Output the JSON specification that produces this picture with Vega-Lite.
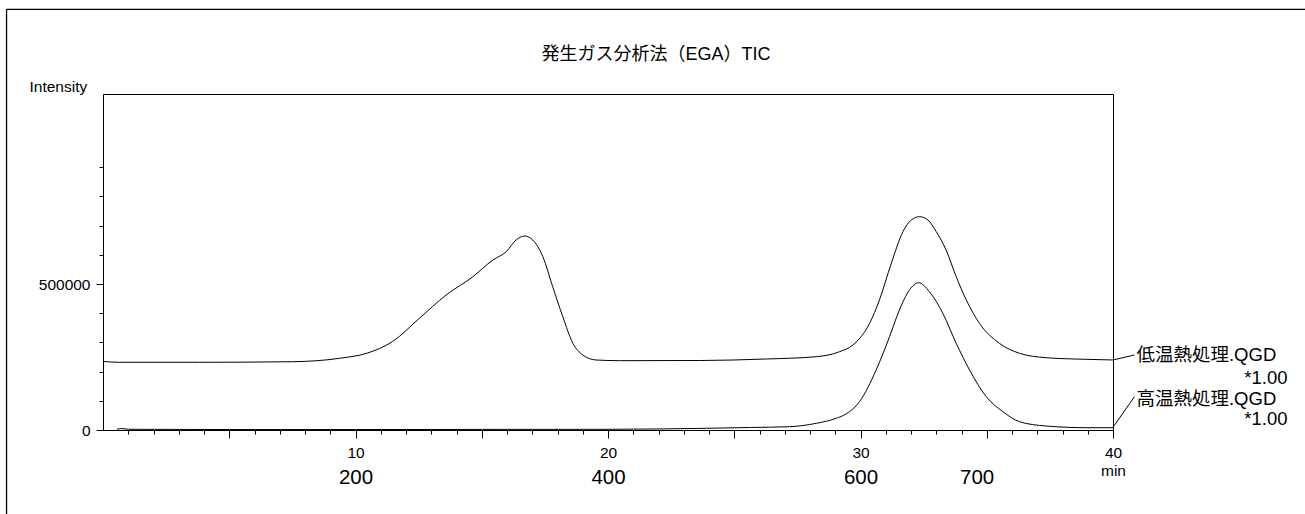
{
  "$schema": "https://vega.github.io/schema/vega-lite/v6.json",
  "width": 1010,
  "height": 336,
  "autosize": {"type": "none"},
  "padding": {"left": 103, "top": 94, "right": 192, "bottom": 84},
  "background": "white",
  "title": {
    "text": "発生ガス分析法（EGA）TIC",
    "font": "Liberation Sans, Noto Sans CJK JP",
    "fontSize": 18,
    "fontWeight": "normal",
    "color": "black",
    "anchor": "middle",
    "frame": "group",
    "dx": 48,
    "offset": -55
  },
  "config": {
    "view": {"stroke": "black", "strokeWidth": 1},
    "axis": {
      "labelColor": "black",
      "tickColor": "black",
      "domainColor": "black",
      "titleColor": "black",
      "labelFont": "Liberation Sans",
      "titleFont": "Liberation Sans",
      "titleFontWeight": "normal",
      "grid": false
    },
    "text": {"font": "Liberation Sans, Noto Sans CJK JP", "color": "black"}
  },
  "datasets": {
    "curves": [
      {"series": "低温熱処理", "t": 0.02, "v": 234600},
      {"series": "低温熱処理", "t": 0.65, "v": 231900},
      {"series": "低温熱処理", "t": 3.82, "v": 231900},
      {"series": "低温熱処理", "t": 7.5, "v": 233900},
      {"series": "低温熱処理", "t": 9.37, "v": 245600},
      {"series": "低温熱処理", "t": 10.44, "v": 262700},
      {"series": "低温熱処理", "t": 11.47, "v": 303100},
      {"series": "低温熱処理", "t": 12.53, "v": 382600},
      {"series": "低温熱処理", "t": 13.59, "v": 462400},
      {"series": "低温熱処理", "t": 14.65, "v": 525100},
      {"series": "低温熱処理", "t": 15.44, "v": 582300},
      {"series": "低温熱処理", "t": 15.97, "v": 610700},
      {"series": "低温熱処理", "t": 16.36, "v": 650800},
      {"series": "低温熱処理", "t": 16.69, "v": 664500},
      {"series": "低温熱処理", "t": 17.02, "v": 650800},
      {"series": "低温熱処理", "t": 17.42, "v": 593600},
      {"series": "低温熱処理", "t": 17.81, "v": 490800},
      {"series": "低温熱処理", "t": 18.21, "v": 388100},
      {"series": "低温熱処理", "t": 18.61, "v": 297000},
      {"series": "低温熱処理", "t": 19.0, "v": 256900},
      {"series": "低温熱処理", "t": 19.53, "v": 239800},
      {"series": "低温熱処理", "t": 20.46, "v": 237400},
      {"series": "低温熱処理", "t": 23.62, "v": 238000},
      {"series": "低温熱処理", "t": 26.27, "v": 243200},
      {"series": "低温熱処理", "t": 28.25, "v": 251100},
      {"series": "低温熱処理", "t": 29.17, "v": 268200},
      {"series": "低温熱処理", "t": 29.7, "v": 291100},
      {"series": "低温熱処理", "t": 30.36, "v": 365400},
      {"series": "低温熱処理", "t": 30.75, "v": 445300},
      {"series": "低温熱処理", "t": 31.22, "v": 570900},
      {"series": "低温熱処理", "t": 31.68, "v": 679200},
      {"series": "低温熱処理", "t": 32.01, "v": 719300},
      {"series": "低温熱処理", "t": 32.34, "v": 730600},
      {"series": "低温熱処理", "t": 32.67, "v": 719300},
      {"series": "低温熱処理", "t": 33.0, "v": 679200},
      {"series": "低温熱処理", "t": 33.39, "v": 616500},
      {"series": "低温熱処理", "t": 33.79, "v": 525100},
      {"series": "低温熱処理", "t": 34.19, "v": 445300},
      {"series": "低温熱処理", "t": 34.71, "v": 365400},
      {"series": "低温熱処理", "t": 35.5, "v": 297000},
      {"series": "低温熱処理", "t": 36.3, "v": 262700},
      {"series": "低温熱処理", "t": 37.35, "v": 247600},
      {"series": "低温熱処理", "t": 38.94, "v": 242100},
      {"series": "低温熱処理", "t": 40.0, "v": 239800},
      {"series": "高温熱処理", "t": 0.55, "v": 2500},
      {"series": "高温熱処理", "t": 0.75, "v": 5000},
      {"series": "高温熱処理", "t": 1.0, "v": 2500},
      {"series": "高温熱処理", "t": 5.0, "v": 1500},
      {"series": "高温熱処理", "t": 10.0, "v": 1500},
      {"series": "高温熱処理", "t": 15.0, "v": 2000},
      {"series": "高温熱処理", "t": 20.0, "v": 2400},
      {"series": "高温熱処理", "t": 23.89, "v": 5800},
      {"series": "高温熱処理", "t": 25.6, "v": 8600},
      {"series": "高温熱処理", "t": 27.19, "v": 11300},
      {"series": "高温熱処理", "t": 28.25, "v": 22900},
      {"series": "高温熱処理", "t": 29.04, "v": 40100},
      {"series": "高温熱処理", "t": 29.43, "v": 55000},
      {"series": "高温熱処理", "t": 29.96, "v": 96900},
      {"series": "高温熱処理", "t": 30.62, "v": 205500},
      {"series": "高温熱処理", "t": 31.15, "v": 319600},
      {"series": "高温熱処理", "t": 31.54, "v": 411000},
      {"series": "高温熱処理", "t": 31.94, "v": 479500},
      {"series": "高温熱処理", "t": 32.3, "v": 504500},
      {"series": "高温熱処理", "t": 32.73, "v": 473700},
      {"series": "高温熱処理", "t": 33.26, "v": 399700},
      {"series": "高温熱処理", "t": 33.79, "v": 297000},
      {"series": "高温熱処理", "t": 34.32, "v": 205500},
      {"series": "高温熱処理", "t": 34.98, "v": 114100},
      {"series": "高温熱処理", "t": 35.64, "v": 62700},
      {"series": "高温熱処理", "t": 36.3, "v": 28400},
      {"series": "高温熱処理", "t": 37.35, "v": 13700},
      {"series": "高温熱処理", "t": 38.94, "v": 7900},
      {"series": "高温熱処理", "t": 40.0, "v": 7900}
    ],
    "frame": [
      {"x": -3.82, "y": 1440900, "x2": 50, "y2": 1440900},
      {"x": -3.82, "y": 1440900, "x2": -3.82, "y2": -500000}
    ],
    "connectors": [
      {"x": 40, "y": 239800, "x2": 40.85, "y2": 256900},
      {"x": 40, "y": 9200, "x2": 40.85, "y2": 114100}
    ],
    "names": [
      {"label": "低温熱処理.QGD", "t": 40.93, "v": 255200},
      {"label": "高温熱処理.QGD", "t": 40.93, "v": 104500}
    ],
    "factors": [
      {"label": "*1.00", "t": 46.91, "v": 178100},
      {"label": "*1.00", "t": 46.91, "v": 37700}
    ]
  },
  "resolve": {"axis": {"x": "independent", "y": "independent"}},
  "layer": [
    {
      "data": {"name": "curves"},
      "mark": {"type": "line", "color": "black", "strokeWidth": 1, "interpolate": "monotone"},
      "encoding": {
        "x": {
          "field": "t", "type": "quantitative",
          "scale": {"domain": [0, 40], "nice": false, "zero": false},
          "axis": {
            "orient": "bottom",
            "values": [1,2,3,4,5,6,7,8,9,10,11,12,13,14,15,16,17,18,19,20,21,22,23,24,25,26,27,28,29,30,31,32,33,34,35,36,37,38,39,40],
            "labelExpr": "datum.value % 10 === 0 ? datum.value : ''",
            "tickSize": {"condition": {"test": "datum.value % 5 === 0", "value": 8}, "value": 4},
            "labelFontSize": 15.5,
            "labelPadding": 7,
            "labelFlush": false,
            "labelOverlap": false,
            "title": "min",
            "titleFontSize": 15.5,
            "titleAnchor": "end",
            "titleAlign": "center",
            "titlePadding": 3
          }
        },
        "y": {
          "field": "v", "type": "quantitative",
          "scale": {"domain": [0, 1150800], "nice": false, "zero": false},
          "axis": {
            "orient": "left",
            "values": [0,100000,200000,300000,400000,500000,600000,700000,800000,900000],
            "format": "d",
            "labelExpr": "datum.value % 500000 === 0 ? datum.label : ''",
            "tickSize": {"condition": {"test": "datum.value % 500000 === 0", "value": 7}, "value": 4},
            "labelFontSize": 15.5,
            "labelPadding": 6,
            "labelOverlap": false,
            "title": "Intensity",
            "titleFontSize": 15.5,
            "titleAngle": 0,
            "titleAlign": "left",
            "titleBaseline": "middle",
            "titleX": -74,
            "titleY": -8
          }
        },
        "detail": {"field": "series"}
      }
    },
    {
      "data": {"name": "curves"},
      "mark": {"type": "point", "opacity": 0},
      "encoding": {
        "x": {
          "field": "t", "type": "quantitative",
          "axis": {
            "orient": "bottom",
            "values": [10, 20, 30, 34.6],
            "labelExpr": "datum.value == 10 ? '200' : datum.value == 20 ? '400' : datum.value == 30 ? '600' : '700'",
            "domain": false,
            "ticks": false,
            "labelFontSize": 20.5,
            "labelPadding": 37,
            "labelFlush": false,
            "labelOverlap": false,
            "title": null
          }
        },
        "y": {"field": "v", "type": "quantitative", "axis": null}
      }
    },
    {
      "data": {"name": "frame"},
      "mark": {"type": "rule", "color": "black", "strokeWidth": 1.3},
      "encoding": {
        "x": {"field": "x", "type": "quantitative", "axis": null},
        "x2": {"field": "x2"},
        "y": {"field": "y", "type": "quantitative", "axis": null},
        "y2": {"field": "y2"}
      }
    },
    {
      "data": {"name": "connectors"},
      "mark": {"type": "rule", "color": "black", "strokeWidth": 1},
      "encoding": {
        "x": {"field": "x", "type": "quantitative", "axis": null},
        "x2": {"field": "x2"},
        "y": {"field": "y", "type": "quantitative", "axis": null},
        "y2": {"field": "y2"}
      }
    },
    {
      "data": {"name": "names"},
      "mark": {"type": "text", "align": "left", "baseline": "middle", "fontSize": 18.5},
      "encoding": {
        "x": {"field": "t", "type": "quantitative", "axis": null},
        "y": {"field": "v", "type": "quantitative", "axis": null},
        "text": {"field": "label"}
      }
    },
    {
      "data": {"name": "factors"},
      "mark": {"type": "text", "align": "right", "baseline": "middle", "fontSize": 18.5},
      "encoding": {
        "x": {"field": "t", "type": "quantitative", "axis": null},
        "y": {"field": "v", "type": "quantitative", "axis": null},
        "text": {"field": "label"}
      }
    }
  ]
}
